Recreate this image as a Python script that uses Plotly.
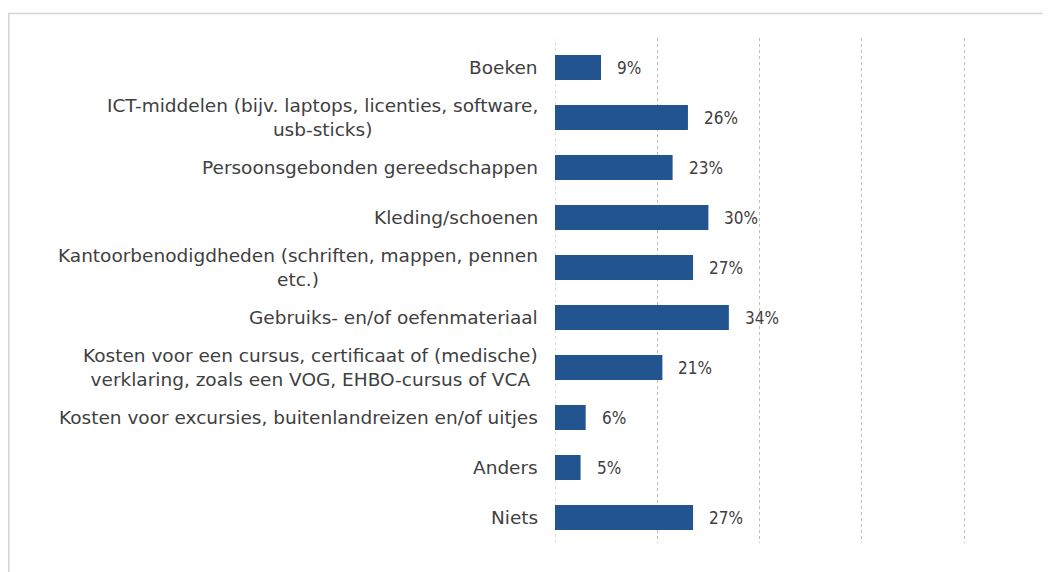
import plotly.graph_objects as go

categories = [
    "Boeken",
    "ICT-middelen (bijv. laptops, licenties, software,<br>usb-sticks)",
    "Persoonsgebonden gereedschappen",
    "Kleding/schoenen",
    "Kantoorbenodigdheden (schriften, mappen, pennen<br>etc.)",
    "Gebruiks- en/of oefenmateriaal",
    "Kosten voor een cursus, certificaat of (medische)<br>verklaring, zoals een VOG, EHBO-cursus of VCA",
    "Kosten voor excursies, buitenlandreizen en/of uitjes",
    "Anders",
    "Niets",
]
values = [9, 26, 23, 30, 27, 34, 21, 6, 5, 27]
tick_values = [0, 20, 40, 60, 80, 100]

bar_color = "#22558f"
text_color = "#404040"
grid_color = "#bdbdbd"
label_font = "DejaVu Sans, Verdana, sans-serif"
value_font = "Liberation Sans Narrow, DejaVu Sans Condensed, Arial Narrow, sans-serif"

# page body has an 8px margin, so the figure is sized to fit the window
W, H = 1043, 564
ml, mr, mt, mb = 547, 0, 30, 29

fig = go.Figure()
fig.add_trace(go.Bar(
    y=categories,
    x=values,
    orientation="h",
    marker=dict(color=bar_color, line=dict(width=0)),
    width=0.5,
    hoverinfo="x+y",
))

annotations = []
for c, v in zip(categories, values):
    annotations.append(dict(
        x=0, xref="paper", y=c, yref="y", text=c, showarrow=False,
        xanchor="right", yanchor="middle", align="center", xshift=-15,
        font=dict(family=label_font, size=18.5, color=text_color),
    ))
    annotations.append(dict(
        x=v, xref="x", y=c, yref="y", text=f"{v}%", showarrow=False,
        xanchor="left", yanchor="middle", xshift=14,
        font=dict(family=value_font, size=17, color=text_color),
    ))

pw = W - ml - mr
ph = H - mt - mb
shapes = [
    dict(
        type="rect", xref="paper", yref="paper",
        x0=(0.75 - ml) / pw, x1=1.2,
        y0=-0.3, y1=(H - mb - 5.5) / ph,
        line=dict(color="#d4d4d4", width=1.5), fillcolor="rgba(0,0,0,0)", layer="below",
    ),
    dict(
        type="line", xref="x", yref="paper", x0=0, x1=0, y0=0, y1=1,
        line=dict(color=grid_color, width=1, dash="3px,3px"), layer="below",
    ),
]

fig.update_layout(
    width=W, height=H,
    margin=dict(l=ml, r=mr, t=mt, b=mb, pad=0),
    paper_bgcolor="white", plot_bgcolor="white",
    showlegend=False,
    bargap=0.5,
    annotations=annotations,
    shapes=shapes,
    xaxis=dict(
        range=[0, 97], tickvals=tick_values, showticklabels=False,
        showgrid=True, gridcolor=grid_color, griddash="3px,3px", gridwidth=1,
        zeroline=False, showline=False, ticks="",
    ),
    yaxis=dict(
        categoryorder="array", categoryarray=categories,
        autorange=False, range=[9.51, -0.59],
        showticklabels=False, showgrid=False, zeroline=False, showline=False, ticks="",
    ),
)

fig.write_html("out.html")
